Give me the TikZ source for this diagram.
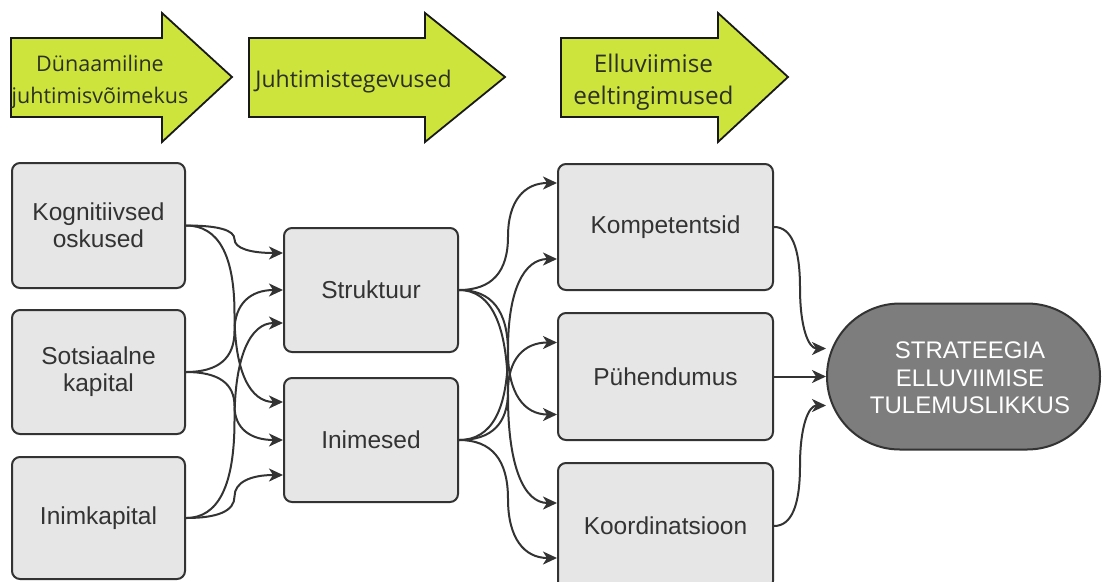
\documentclass[tikz,border=0pt]{standalone}
\usepackage{fontspec}
\setmainfont{Liberation Sans}
\newfontfamily\stagefont{Open Sans}
\usetikzlibrary{arrows.meta,calc,shapes.misc}

\definecolor{lime}{RGB}{205,228,60}
\definecolor{boxfill}{RGB}{230,230,230}
\definecolor{ink}{RGB}{51,51,51}
\definecolor{ovalfill}{RGB}{125,125,125}
\definecolor{stageink}{RGB}{45,48,35}

\begin{document}
\begin{tikzpicture}[x=1pt,y=-1pt,
  stage/.style={fill=lime, draw=black!90, line width=1.8pt, line join=miter},
  stagetext/.style={text=stageink, align=center, inner sep=0pt},
  block/.style={draw=ink, fill=boxfill, line width=2pt, rounded corners=8pt,
    font=\fontsize{24.5}{27}\selectfont, text=ink, align=center, inner sep=0pt},
  result/.style={rounded rectangle, draw=ink, fill=ovalfill, line width=2pt,
    minimum width=273pt, minimum height=146pt, inner sep=0pt},
  resulttext/.style={font=\fontsize{24}{27.5}\selectfont, text=white, align=center, inner sep=0pt},
  headed/.style={-{Stealth[length=14pt,width=13pt,inset=4pt]}},
  flow/.style={draw=ink, line width=2pt, headed,
    to path={let \p1=(\tikztostart), \p2=(\tikztotarget) in
      .. controls ({\x1/3+(\x1+\x2)/3},\y1) and ({(\x1+\x2)/2},{5*\y1/6+\y2/6})
      .. ({(\x1+\x2)/2},{(\y1+\y2)/2})
      .. controls ({(\x1+\x2)/2},{\y1/6+5*\y2/6}) and ({\x2/3+(\x1+\x2)/3},\y2)
      .. (\x2,\y2)}},
  straight/.style={draw=ink, line width=2pt, headed}
]
\useasboundingbox (0,0) rectangle (1102,581);
\clip (0,0) rectangle (1102,581);

% stage arrows along the top
\draw[stage] (11,38) -- (162,38) -- (162,13) -- (232,77) -- (162,142) -- (162,117) -- (11,117) -- cycle;
\draw[stage] (249,38) -- (425,38) -- (425,13) -- (505,77) -- (425,142) -- (425,117) -- (249,117) -- cycle;
\draw[stage] (561,38) -- (718,38) -- (718,13) -- (788,77) -- (718,142) -- (718,117) -- (561,117) -- cycle;
\node[stagetext, font=\stagefont\fontsize{21.5}{32}\selectfont] (stageA) at (100,82) {Dünaamiline\\juhtimisvõimekus};
\node[stagetext, font=\stagefont\fontsize{23}{32}\selectfont] (stageB) at (353.5,82) {Juhtimistegevused};
\node[stagetext, font=\stagefont\fontsize{24.3}{32}\selectfont] (stageC) at (653.5,82) {Elluviimise\\eeltingimused};

% capabilities
\node[block, minimum width=173pt, minimum height=125pt] (kog) at (98.5,225.5) {Kognitiivsed\\oskused};
\node[block, minimum width=173pt, minimum height=124pt] (sot) at (98.5,372) {Sotsiaalne\\kapital};
\node[block, minimum width=173pt, minimum height=122pt] (ikp) at (98.5,518) {Inimkapital};

% management actions
\node[block, minimum width=174pt, minimum height=124pt] (str) at (371,290) {Struktuur};
\node[block, minimum width=174pt, minimum height=124pt] (ini) at (371,440) {Inimesed};

% preconditions
\node[block, minimum width=215pt, minimum height=126pt] (kom) at (665.5,227) {Kompetentsid};
\node[block, minimum width=215pt, minimum height=127pt] (puh) at (665.5,376.5) {Pühendumus};
\node[block, minimum width=215pt, minimum height=126pt] (koo) at (665.5,526) {Koordinatsioon};

% outcome
\node[result] (res) at (963.5,376.5) {};
\node[resulttext] (restext) at (970,378) {STRATEEGIA\\ELLUVIIMISE\\TULEMUSLIKKUS};

% capabilities -> actions
\draw[flow] (kog.east) to ($(str.west)+(0,-37)$);
\draw[flow] (kog.east) to ($(ini.west)+(0,-38)$);
\draw[flow] (sot.east) to (str.west);
\draw[flow] (sot.east) to (ini.west);
\draw[flow] (ikp.east) to ($(str.west)+(0,33)$);
\draw[flow] (ikp.east) to ($(ini.west)+(0,35)$);

% actions -> preconditions
\draw[flow] (str.east) to ($(kom.west)+(0,-44)$);
\draw[flow] (str.east) to ($(puh.west)+(0,38)$);
\draw[flow] (str.east) to ($(koo.west)+(0,-23)$);
\draw[flow] (ini.east) to ($(kom.west)+(0,32)$);
\draw[flow] (ini.east) to ($(puh.west)+(0,-34)$);
\draw[flow] (ini.east) to ($(koo.west)+(0,32)$);

% preconditions -> outcome
\draw[flow] (kom.east) to ($(res.west)+(0,-28)$);
\draw[straight] (puh.east) -- (res.west);
\draw[flow] (koo.east) to ($(res.west)+(0,29)$);
\end{tikzpicture}
\end{document}
